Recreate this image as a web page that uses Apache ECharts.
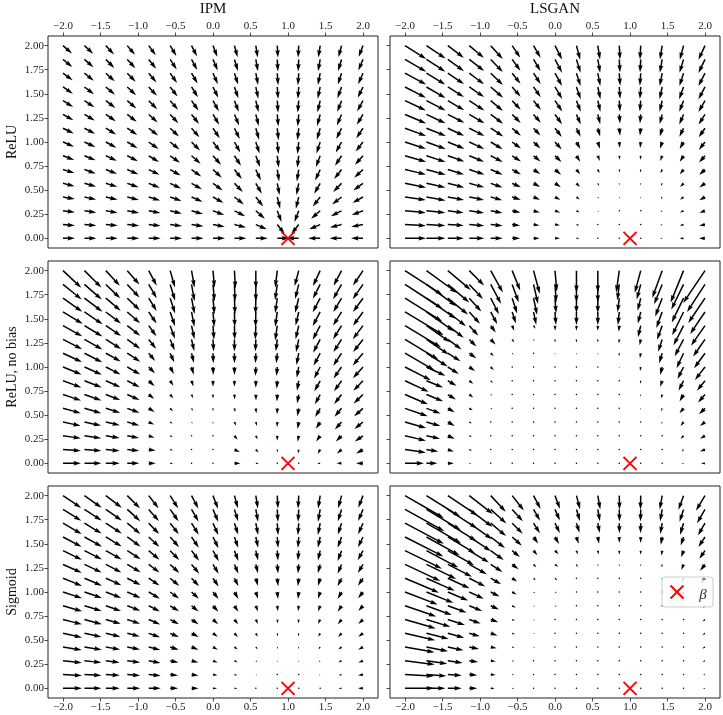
<!DOCTYPE html>
<html>
<head>
<meta charset="utf-8">
<script src="https://cdn.jsdelivr.net/npm/echarts@6/dist/echarts.min.js"></script>
<style>
  html, body { margin: 0; padding: 0; background: #fff; }
  #chart { width: 723px; height: 715px; }
</style>
</head>
<body>
<div id="chart"></div>
<script>
// grid of sample points (tails of the arrows), rows listed top (y=2) to bottom (y=0)
const gridX = [-2, -1.714, -1.429, -1.143, -0.857, -0.571, -0.286, 0, 0.286, 0.571, 0.857, 1.143, 1.429, 1.714, 2];
const gridY = [2, 1.857, 1.714, 1.571, 1.429, 1.286, 1.143, 1, 0.857, 0.714, 0.571, 0.429, 0.286, 0.143, 0];
const xTicks = [-2, -1.5, -1, -0.5, 0, 0.5, 1, 1.5, 2];
const yTicks = [0, 0.25, 0.5, 0.75, 1, 1.25, 1.5, 1.75, 2];
const target = [1, 0];
const colTitles = ['IPM', 'LSGAN'];
const rowTitles = ['ReLU', 'ReLU, no bias', 'Sigmoid'];

// arrow direction (degrees, counter-clockwise from +x) and magnitude, read per arrow
const ipmReluAngle = [
  [-41,-43,-47,-50,-54,-59,-63,-69,-75,-81,-87,-93,-99,-105,-111],
  [-39,-41,-45,-48,-52,-57,-62,-67,-73,-80,-87,-93,-100,-107,-113],
  [-36,-39,-42,-46,-50,-55,-60,-66,-72,-79,-86,-94,-101,-108,-114],
  [-34,-37,-40,-43,-47,-52,-58,-64,-71,-78,-86,-94,-102,-110,-116],
  [-32,-34,-37,-41,-45,-49,-55,-61,-69,-77,-86,-95,-103,-111,-119],
  [-29,-31,-34,-38,-42,-47,-52,-59,-67,-76,-85,-95,-105,-113,-121],
  [-26,-28,-31,-34,-38,-43,-49,-56,-64,-74,-84,-96,-106,-116,-124],
  [-23,-25,-28,-31,-35,-39,-45,-52,-61,-72,-84,-96,-108,-119,-128],
  [-20,-22,-24,-27,-31,-35,-41,-48,-57,-69,-83,-97,-111,-123,-132],
  [-17,-19,-21,-23,-26,-30,-36,-43,-52,-65,-81,-99,-115,-128,-137],
  [-14,-15,-17,-19,-22,-25,-30,-36,-46,-60,-79,-101,-120,-134,-144],
  [-10,-12,-13,-14,-17,-19,-23,-29,-38,-52,-76,-104,-128,-142,-151],
  [-7,-8,-9,-10,-11,-13,-16,-20,-27,-41,-69,-111,-139,-153,-160],
  [-4,-4,-4,-5,-6,-7,-8,-10,-14,-23,-52,-128,-157,-166,-170],
  [0,0,0,0,0,0,0,0,0,0,0,180,180,180,180]
];
const ipmReluLength = [
  [12,12,12,12,12,12,12,12,12,12,12,12,12,12,12],
  [12,12,12,12,12,12,12,12,12,12,12,12,12,12,12],
  [12,12,12,12,12,12,12,12,12,12,12,12,12,12,12],
  [12,12,12,12,12,12,12,12,12,12,12,12,12,12,12],
  [12,12,12,12,12,12,12,12,12,12,12,12,12,12,12],
  [12,12,12,12,12,12,12,12,12,12,12,12,12,12,12],
  [12,12,12,12,12,12,12,12,12,12,12,12,12,12,12],
  [12,12,12,12,12,12,12,12,12,12,12,12,12,12,12],
  [12,12,12,12,12,12,12,12,12,12,12,12,12,12,12],
  [12,12,12,12,12,12,12,12,12,12,12,12,12,12,12],
  [12,12,12,12,12,12,12,12,12,12,12,12,12,12,12],
  [12,12,12,12,12,12,12,12,12,12,12,12,12,12,12],
  [12,12,12,12,12,12,12,12,12,12,12,12,12,12,12],
  [12,12,12,12,12,12,12,12,12,12,12,12,12,12,12],
  [12,12,12,12,12,12,12,12,12,12,12,12,12,12,12]
];

const lsganReluAngle = [
  [-32,-34,-37,-40,-48,-56,-60,-63,-75,-81,-87,-93,-99,-105,-115],
  [-30,-33,-36,-38,-46,-54,-59,-62,-73,-80,-87,-93,-100,-107,-116],
  [-28,-31,-34,-37,-44,-52,-57,-61,-72,-79,-86,-94,-101,-108,-117],
  [-27,-30,-32,-34,-41,-49,-55,-59,-71,-78,-86,-94,-102,-110,-118],
  [-25,-27,-30,-33,-40,-47,-52,-56,-69,-77,-86,-95,-103,-111,-120],
  [-23,-25,-27,-30,-37,-45,-49,-54,-67,-76,-85,-95,-105,-113,-122],
  [-20,-22,-25,-27,-33,-41,-47,-52,-64,-74,-84,-96,-106,-116,-125],
  [-18,-20,-22,-25,-31,-37,-43,-48,-61,-72,-84,-96,-108,-119,-128],
  [-16,-18,-19,-22,-27,-33,-39,-44,-57,-69,-83,-97,-111,-123,-132],
  [-13,-15,-17,-18,-23,-29,-34,-40,-52,-65,-81,-99,-115,-128,-137],
  [-11,-12,-14,-15,-19,-24,-29,-33,-46,-60,-79,-101,-120,-134,-144],
  [-8,-10,-10,-11,-15,-18,-22,-27,-38,-52,-76,-104,-128,-142,-151],
  [-5,-6,-7,-8,-10,-12,-15,-18,-27,-41,-69,-111,-139,-153,-160],
  [-3,-3,-3,-4,-5,-7,-8,-9,-14,-23,-52,-128,-157,-166,-170],
  [0,0,0,0,0,0,0,0,0,0,0,180,180,180,180]
];
const lsganReluLength = [
  [25,23,20,19,18,14.5,14,15.5,14.5,14,14,14,14,14.5,15.5],
  [24.5,22.5,20,19,17.5,14,13.5,15,14,13.5,13,13,13.5,14,15],
  [24,22,19.5,18.5,17,13.5,13,14.5,13.5,13,12.5,12.5,13,13.5,14.5],
  [23.5,22,19,18,16.5,13,12.5,14,13,12.5,12,12,12.5,13,14],
  [23,21.5,19,18,16,12.5,12,13,12,11.5,11,11,11.5,12,13],
  [23,21,18.5,17.5,15.5,12,11,12,11,10,9,9,10,11,12],
  [22.5,21,18,17,15,11.5,10,11,9.5,8.5,7.5,7.5,8.5,9.5,11],
  [22,20.5,18,16.5,14,11,9.5,10,8,7,6,6,7,8,10],
  [22,20,17.5,16,13.5,10.5,9,9,7,5.5,4,4,5.5,7,9],
  [21.5,20,17,16,13,10,8,8,6,4,3,3,4,6,8],
  [21.5,19.5,17,15.5,12.5,9.5,7.5,7,5,3,2,2,3,5,7],
  [21,19.5,16.5,15,12,9,7,6,4,2,1.5,1.5,2.5,4.5,6.5],
  [21,19,16,15,12,8.5,6.5,5.5,3.5,1.5,1,1,2,4,6],
  [21,19,16,15,12,8,6,5,3,1,0.5,0.5,2,4,6],
  [21,19,16,15,12,8,6,5,3,0.5,0.3,0.3,2,4,6]
];

const ipmNoBiasAngle = [
  [-43,-45,-47,-49,-62,-74,-80,-85,-87,-90,-97,-105,-115,-118,-124],
  [-39,-41,-44,-47,-60,-73,-80,-85,-88,-90,-98,-104,-117,-120,-125],
  [-35,-37,-40,-44,-58,-72,-79,-85,-88,-91,-98,-104,-118,-121,-126],
  [-31,-34,-37,-41,-56,-71,-79,-85,-89,-91,-98,-103,-118,-122,-126],
  [-29,-31,-34,-38,-54,-70,-78,-86,-89,-92,-98,-103,-118,-122,-127],
  [-27,-29,-32,-36,-52,-68,-77,-87,-90,-92,-97,-102,-118,-123,-128],
  [-25,-27,-29,-33,-50,-66,-76,-88,-90,-92,-96,-101,-118,-124,-130],
  [-22,-24,-27,-30,-45,-62,-74,-88,-90,-92,-95,-100,-118,-125,-132],
  [-20,-21,-24,-27,-42,-58,-72,-90,-90,-90,-94,-100,-119,-126,-134],
  [-18,-19,-21,-24,-38,-52,-68,-90,-88,-88,-93,-100,-119,-128,-136],
  [-15,-16,-17,-20,-32,-45,-62,-90,-80,-85,-92,-100,-120,-130,-138],
  [-12,-12,-13,-16,-25,-38,-55,-90,-65,-75,-91,-100,-122,-132,-141],
  [-8,-8,-9,-11,-18,-30,-45,-90,-50,-60,-90,-100,-125,-135,-145],
  [-4,-4,-5,-6,-8,-15,-30,-60,-25,-45,-90,-100,-120,-140,-150],
  [0,0,0,0,0,0,0,0,0,0,0,180,180,180,180]
];
const ipmNoBiasLength = [
  [25,24,20.5,18.5,17,17.5,17,17,18,18,17,16,17,17,18],
  [24,23,20,18,16,17,17,17,17,17,16,15,16,17,18],
  [23.5,22.5,19.5,17.5,15,16,16,16,16,16,15,15,16,16,17],
  [23,22,19,17,14,15,15,15,15,15,15,14,16,16,17],
  [22,21,18.5,16.5,13,14,14,14,14,14,15,14,16,16,17],
  [21.5,20.5,18,16,12,12,12,12,12,12,12,13,15,15,16],
  [21,20,17,15.5,10,10,10,10,10,10,10,12,14,15,16],
  [20,19,16.5,15,9,8,8,8,8,9,9,11,13,14,15],
  [19.5,18.5,16,14,8,6,6,6,6,7,8,10,12,13,14],
  [19,18,15.5,13.5,7,5,4,4,5,6,7,9,11,12,13],
  [18.5,17.5,15,13,7,4,3,3,4,5,6,8,10,11,12],
  [18,17,14.5,12.5,6,3,2,2,4,4,5,7,8,10,11],
  [18,17,14,12,6,3,1,1,5,4,5,6,7,8,10],
  [18,17,14,12,7,3,0.5,1,6,4,3,4,5,6,8],
  [18,17,14,12,7,3,0.5,0.5,6,3,0.5,0.5,3,5,7]
];

const lsganNoBiasAngle = [
  [-33,-36,-40,-45,-61,-68,-75,-85,-90,-90,-98,-105,-110,-112,-124],
  [-33,-36,-40,-47,-62,-70,-77,-86,-90,-90,-97,-105,-112,-116,-123],
  [-32,-35,-39,-48,-63,-72,-78,-86,-90,-90,-97,-104,-111,-116,-124],
  [-31,-35,-38,-48,-62,-72,-78,-86,-90,-90,-96,-104,-110,-116,-124],
  [-31,-35,-37,-48,-54,-68,-56,-88,-90,-90,-95,-103,-110,-117,-125],
  [-31,-34,-36,-45,-45,-56,-60,-88,-90,-90,-95,-100,-108,-118,-125],
  [-30,-32,-32,-36,-45,-50,-60,-88,-90,-90,-95,-100,-107,-115,-126],
  [-27,-25,-32,-34,-45,-45,-60,-88,-90,-90,-95,-100,-104,-117,-128],
  [-25,-22,-29,-37,-45,-45,-60,-88,-90,-90,-95,-100,-108,-117,-129],
  [-23,-22,-32,-37,-30,-45,-60,-88,-90,-90,-95,-100,-104,-120,-131],
  [-19,-20,-30,-30,-30,-45,-60,-88,-90,-90,-95,-100,-108,-129,-135],
  [-16,-16,-30,-30,-30,-45,-60,-88,-90,-90,-95,-100,-110,-127,-141],
  [-13,-12,-23,-25,-30,-45,-60,-88,-90,-90,-95,-100,-120,-135,-149],
  [-8,-9,-18,-18,-30,-45,-60,-88,-90,-90,-95,-100,-140,-135,-158],
  [0,0,0,0,0,0,0,0,0,0,0,180,180,180,180]
];
const lsganNoBiasLength = [
  [45,38,30,21,25,21.5,24,21,22,22,22,23,29,34.5,39],
  [45,37,28,20,22,19,20,18,18,18,16,15.5,21.5,28,33],
  [44,36,26,18,18,16,17,15,15,15,14,13,19.5,27,30],
  [45,34,23,16,14,12,13,13,13,13,13,12,17,26,26.6],
  [42,29,20,13.5,8.6,5.4,3.6,5,5,5,6,12,15,22,24.4],
  [39,27,17,10,7,3.6,2,3,3,3,4,6,13,19,20.8],
  [34,25,15,8.6,4.2,2,1,1.5,1.5,1.5,3,5,10.4,16.5,18.6],
  [29,21,13,7,4.2,1,0.6,0.6,0.6,0.6,1.5,4,8.2,13.4,16.4],
  [26,18,10,5,3,0.7,0.6,0.6,0.6,0.6,0.7,3,6.3,11,12.8],
  [25,18,9.5,5,2,0.7,0.6,0.6,0.6,0.6,0.7,2,4,8,10.6],
  [24,15,8,4,2,0.7,0.6,0.6,0.6,0.6,0.7,1.5,3,6.4,8.5],
  [22,14.5,8,3,1,0.7,0.6,0.6,0.6,0.6,0.7,1,2,5,6.4],
  [21.5,14,7.6,3,1,0.7,0.6,0.6,0.6,0.6,0.7,0.7,1,4.2,5.8],
  [21,12,6.3,3,0.8,0.7,0.6,0.6,0.6,0.6,0.7,0.7,1,2.8,5.4],
  [19,11,6,2,0.5,0.7,0.6,0.3,0.6,0.6,0.7,0.7,1,2,4]
];

const ipmSigmoidAngle = [
  [-34,-35,-37,-45,-52,-58,-62,-69,-75,-81,-87,-93,-99,-105,-111],
  [-32,-33,-35,-42,-49,-55,-60,-67,-73,-80,-87,-93,-100,-107,-113],
  [-30,-31,-33,-39,-46,-52,-58,-66,-72,-79,-86,-94,-101,-108,-114],
  [-28,-29,-31,-36,-43,-49,-56,-64,-71,-78,-86,-94,-102,-110,-116],
  [-26,-27,-29,-33,-40,-46,-53,-61,-69,-77,-86,-95,-103,-111,-119],
  [-24,-25,-27,-30,-37,-43,-50,-59,-67,-76,-85,-95,-105,-113,-121],
  [-22,-23,-24,-27,-34,-40,-47,-56,-64,-74,-84,-96,-106,-116,-124],
  [-18,-19,-21,-24,-31,-36,-43,-52,-61,-72,-84,-96,-108,-119,-128],
  [-16,-17,-19,-21,-27,-32,-39,-48,-57,-69,-83,-97,-111,-123,-132],
  [-14,-15,-16,-18,-23,-28,-34,-43,-52,-65,-81,-99,-115,-128,-137],
  [-12,-12,-13,-14,-19,-23,-28,-36,-46,-60,-79,-101,-120,-134,-144],
  [-9,-9,-10,-11,-14,-18,-22,-29,-38,-52,-76,-104,-128,-142,-151],
  [-6,-6,-7,-7,-10,-12,-15,-20,-27,-41,-69,-111,-139,-153,-160],
  [-3,-3,-3,-4,-5,-6,-8,-10,-14,-23,-52,-128,-157,-166,-170],
  [0,0,0,0,0,0,0,0,0,0,0,180,180,180,180]
];
const ipmSigmoidLength = [
  [22,21,20,18,16,15,14.5,14,13,13,13,13,13,13,13],
  [21.5,20.5,19.5,17.5,15.5,14.5,14,13.5,12.5,12.5,12.5,12.5,12.5,12.5,12.5],
  [21.5,20,19,17,15,14,13.5,13,12,12,12,12,12,12,12],
  [21,20,18.5,16.5,14.5,13.5,13,12.5,11.5,11,11,11,11,11.5,11.5],
  [21,19.5,18,16,14,13,12.5,12,11,10,10,10,10,11,11],
  [20.5,19,17.5,15.5,13.5,12.5,12,11,10,9,9,9,9,10,10],
  [20.5,19,17,15,13,12,11,10,9,8,8,8,8,9,9],
  [20,18.5,16.5,14.5,13,11,10,9,8,7,7,7,7,8,8],
  [20,18,16,14,12.5,10.5,9,8,7,6,5.5,5.5,6,7,7],
  [19.5,18,15.5,13.5,12.5,10,8.5,7,6,5,4,4,5,6,6.5],
  [19.5,17.5,15,13,12,9.5,8,6,5,4,3,3,4,5,6],
  [19,17.5,14.5,13,12,9,7.5,5.5,4,3,2,2,3,4,5.5],
  [19,17,14,13,12,8.5,7,5,3.5,2,1.5,1.5,2,3.5,5],
  [19,17,14,13,12,8,7,4.5,3,1.5,1,1,1.5,3,5],
  [19,17,14,13,12,8,7,4,3,1,0.5,0.5,1,3,5]
];

const lsganSigmoidAngle = [
  [-30,-32,-34,-38,-47,-52,-62,-69,-75,-80,-89,-91,-100,-110,-121],
  [-29,-31,-33,-37,-42,-48,-60,-66,-73,-80,-89,-91,-100,-108,-120],
  [-28,-30,-32,-35,-40,-45,-58,-64,-72,-79,-89,-91,-100,-107,-120],
  [-27,-29,-31,-33,-38,-42,-55,-60,-72,-80,-89,-91,-100,-108,-123],
  [-26,-28,-29,-31,-36,-40,-50,-45,-70,-80,-89,-91,-100,-110,-125],
  [-25,-26,-27,-29,-33,-36,-45,-40,-70,-80,-89,-91,-100,-112,-128],
  [-23,-24,-25,-27,-30,-33,-40,-40,-70,-80,-89,-91,-100,-115,-130],
  [-21,-22,-23,-25,-27,-30,-35,-30,-70,-80,-89,-91,-100,-115,-132],
  [-19,-20,-20,-22,-24,-28,-30,-30,-70,-80,-89,-91,-100,-115,-135],
  [-16,-17,-18,-19,-20,-25,-25,-30,-70,-80,-89,-91,-100,-115,-140],
  [-13,-14,-15,-16,-17,-20,-20,-30,-70,-80,-89,-91,-100,-115,-145],
  [-10,-11,-12,-12,-13,-15,-15,-30,-70,-80,-89,-91,-100,-115,-150],
  [-7,-8,-8,-8,-9,-10,-10,-30,-70,-80,-89,-91,-100,-115,-160],
  [-3,-4,-4,-4,-5,-5,-5,-30,-70,-80,-89,-91,-100,-115,-170],
  [0,0,0,0,0,0,0,0,0,0,0,180,180,180,180]
];
const lsganSigmoidLength = [
  [45,40,36,30,22,19,15,14,14,14,14,14,14,15,17.5],
  [45,40,35,29,21,16,13,12,12,12,12,12,12,13,16],
  [44,40,34,28,20,15,12,11,10,10,10,10,11,12,14],
  [43,38,32,26,18,13,8,8,7,7,6,6,8,9,12],
  [41,36,30,23,16,10,6,5,4,4,4,4,5,7,10],
  [39,33,27,20,14,8,4,4,3,2,2,2,3,6,8],
  [37,31,24,18,12,6,3,3,1,0.7,0.7,0.7,2,4,6],
  [35,29,22,16,10,5,2,2,0.7,0.7,0.7,0.7,0.7,3,4],
  [33,27,20,14,9,4,1.5,2,0.7,0.7,0.7,0.7,0.7,2,3],
  [32,25,18,12,8,3,1.5,0.7,0.7,0.7,0.7,0.7,0.7,1,3],
  [31,23,17,11,7,3,1.5,0.7,0.7,0.7,0.7,0.7,0.7,1,3],
  [30,22,16,10,6,2.5,1.5,0.7,0.7,0.7,0.7,0.7,0.7,0.7,3],
  [30,21,15,9,5,2,1,0.7,0.7,0.7,0.7,0.7,0.7,0.7,2.5],
  [29,20,14,8,5,2,1,0.7,0.7,0.7,0.7,0.7,0.7,0.7,2],
  [29,19,14,8,4,2,1,0.7,0.7,0.7,0.7,0.7,0.7,0.7,2]
];

const panels = [
  { row: 0, col: 0, angle: ipmReluAngle, length: ipmReluLength },
  { row: 0, col: 1, angle: lsganReluAngle, length: lsganReluLength },
  { row: 1, col: 0, angle: ipmNoBiasAngle, length: ipmNoBiasLength },
  { row: 1, col: 1, angle: lsganNoBiasAngle, length: lsganNoBiasLength },
  { row: 2, col: 0, angle: ipmSigmoidAngle, length: ipmSigmoidLength },
  { row: 2, col: 1, angle: lsganSigmoidAngle, length: lsganSigmoidLength }
];

const serif = '"Liberation Serif", "DejaVu Serif", serif';
const gridLeft = [48, 390];
const gridTop = [36, 261, 486];
const gridW = 330, gridH = 212;

// matplotlib-like quiver arrow: shaft w, head width 3w, head length 5w, head axis 4.5w
const shaftW = 1.5;
function arrowShape(px, py, angleDeg, len) {
  const a = angleDeg * Math.PI / 180;
  const ux = Math.cos(a), uy = -Math.sin(a);
  const nx = -uy, ny = ux;
  const w = shaftW, hl = 5 * w, hw = 3 * w, hal = 4.5 * w;
  if (len < w) {
    return { type: 'circle', shape: { cx: px, cy: py, r: w / 2 }, style: { fill: '#000' } };
  }
  let L = len, k = 1;
  if (L < hl) { k = L / hl; L = hl; }
  const local = [[0, -w / 2], [L - hal, -w / 2], [L - hl, -hw / 2], [L, 0], [L - hl, hw / 2], [L - hal, w / 2], [0, w / 2]];
  const pts = local.map(([s, t]) => [px + k * (s * ux + t * nx), py + k * (s * uy + t * ny)]);
  return { type: 'polygon', shape: { points: pts }, style: { fill: '#000' } };
}

function renderArrow(params, api) {
  const p = api.coord([api.value(0), api.value(1)]);
  return arrowShape(p[0], p[1], api.value(2), api.value(3));
}

function renderCross(params, api) {
  const p = api.coord([api.value(0), api.value(1)]);
  const h = 6.5;
  const st = { stroke: '#ff0000', lineWidth: 2 };
  return {
    type: 'group',
    children: [
      { type: 'line', shape: { x1: p[0] - h, y1: p[1] - h, x2: p[0] + h, y2: p[1] + h }, style: st },
      { type: 'line', shape: { x1: p[0] - h, y1: p[1] + h, x2: p[0] + h, y2: p[1] - h }, style: st }
    ]
  };
}

const fmtX = v => (v < 0 ? '\u2212' : '') + Math.abs(v).toFixed(1);
const fmtY = v => v.toFixed(2);

const grids = [], xAxes = [], yAxes = [], series = [];
panels.forEach((pn, i) => {
  grids.push({
    left: gridLeft[pn.col], top: gridTop[pn.row], width: gridW, height: gridH,
    show: true, borderColor: '#222', borderWidth: 1, backgroundColor: 'transparent',
    outerBoundsMode: 'none'
  });
  const showX = pn.row !== 1;
  xAxes.push({
    gridIndex: i, type: 'value', min: -2.2, max: 2.2,
    position: pn.row === 0 ? 'top' : 'bottom',
    axisLine: { show: false, onZero: false }, splitLine: { show: false },
    axisTick: { show: showX, customValues: xTicks, length: 3.5, lineStyle: { color: '#222', width: 0.8 } },
    axisLabel: { show: showX, customValues: xTicks, formatter: fmtX, margin: 4,
      fontFamily: serif, fontSize: 11, color: '#222' }
  });
  yAxes.push({
    gridIndex: i, type: 'value', min: -0.1, max: 2.1, position: 'left',
    axisLine: { show: false, onZero: false }, splitLine: { show: false },
    axisTick: { show: true, customValues: yTicks, length: 3.5, lineStyle: { color: '#222', width: 0.8 } },
    axisLabel: { show: pn.col === 0, customValues: yTicks, formatter: fmtY, margin: 4,
      fontFamily: serif, fontSize: 11, color: '#222' }
  });
  const data = [];
  gridY.forEach((y, r) => {
    gridX.forEach((x, c) => {
      data.push([x, y, pn.angle[r][c], pn.length[r][c]]);
    });
  });
  series.push({
    type: 'custom', xAxisIndex: i, yAxisIndex: i, data, renderItem: renderArrow,
    silent: true, animation: false, clip: false, z: 2
  });
  series.push({
    type: 'custom', xAxisIndex: i, yAxisIndex: i, data: [target], renderItem: renderCross,
    silent: true, animation: false, clip: false, z: 3
  });
});

const graphics = [];
colTitles.forEach((t, c) => {
  graphics.push({ type: 'text', x: gridLeft[c] + gridW / 2, y: 9,
    style: { text: t, fontFamily: serif, fontSize: 15, fill: '#111', align: 'center', verticalAlign: 'middle' } });
});
rowTitles.forEach((t, r) => {
  graphics.push({ type: 'text', x: 12, y: gridTop[r] + gridH / 2, rotation: Math.PI / 2,
    style: { text: t, fontFamily: serif, fontSize: 14, fill: '#111', align: 'center', verticalAlign: 'middle' } });
});
// legend in the bottom-right panel
graphics.push({ type: 'rect', z: 100, shape: { x: 662, y: 577, width: 51, height: 30, r: 3 },
  style: { fill: 'rgba(255,255,255,0.8)', stroke: '#cccccc', lineWidth: 1 } });
graphics.push({ type: 'line', z: 101, shape: { x1: 670.5, y1: 585.5, x2: 683.5, y2: 598.5 }, style: { stroke: '#ff0000', lineWidth: 2 } });
graphics.push({ type: 'line', z: 101, shape: { x1: 670.5, y1: 598.5, x2: 683.5, y2: 585.5 }, style: { stroke: '#ff0000', lineWidth: 2 } });
graphics.push({ type: 'text', z: 101, x: 703, y: 595,
  style: { text: '\u03B2', fontFamily: serif, fontStyle: 'italic', fontSize: 15, fill: '#333', align: 'center', verticalAlign: 'middle' } });
graphics.push({ type: 'text', z: 101, x: 704, y: 584,
  style: { text: '\u02C6', fontFamily: serif, fontSize: 13, fill: '#333', align: 'center', verticalAlign: 'middle' } });

const chart = echarts.init(document.getElementById('chart'), null, { renderer: 'canvas' });
chart.setOption({
  backgroundColor: '#fff',
  animation: false,
  grid: grids,
  xAxis: xAxes,
  yAxis: yAxes,
  series,
  graphic: graphics
});
</script>
</body>
</html>
